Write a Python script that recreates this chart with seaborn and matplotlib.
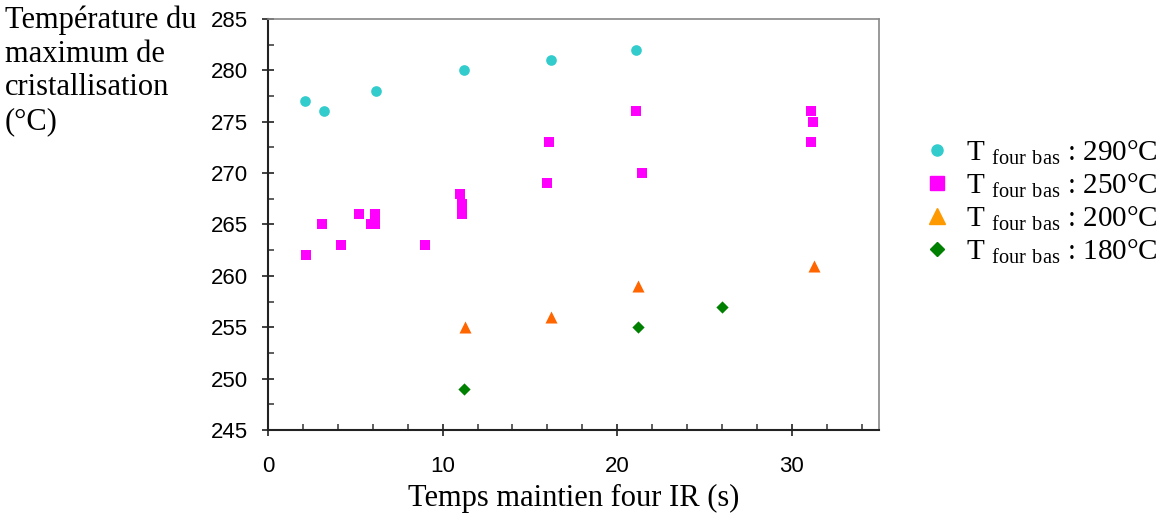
import matplotlib
matplotlib.use("Agg")
import matplotlib.pyplot as plt
from matplotlib.lines import Line2D
from matplotlib.ticker import MultipleLocator
import seaborn as sns
import pandas as pd

# Series
t_290 = [2.1, 3.2, 6.2, 11.2, 16.2, 21.1]
y_290 = [277, 276, 278, 280, 281, 282]

t_250 = [2.2, 3.1, 4.2, 5.2, 5.9, 6.1, 6.1, 9.0, 11.0, 11.1, 11.1, 16.0, 16.1, 21.1, 21.4, 31.1, 31.2, 31.1]
y_250 = [262, 265, 263, 266, 265, 265, 266, 263, 268, 267, 266, 269, 273, 276, 270, 276, 275, 273]

t_200 = [11.3, 16.2, 21.2, 31.3]
y_200 = [255, 256, 259, 261]

t_180 = [11.2, 21.2, 26.0]
y_180 = [249, 255, 257]

series = ["290", "250", "200", "180"]
colors = {"290": "#33CCCC", "250": "#FF00FF", "200": "#FF6600", "180": "#008000"}
legend_colors = {"290": "#33CCCC", "250": "#FF00FF", "200": "#FF9900", "180": "#008000"}
markers = {"290": "o", "250": "s", "200": "^", "180": "D"}
sizes = {"290": 59, "250": 57, "200": 75, "180": 39}
legend_sizes = {"290": 8, "250": 10, "200": 12, "180": 7}

df = pd.concat([
    pd.DataFrame({"temps": t_290, "temp": y_290, "four": "290"}),
    pd.DataFrame({"temps": t_250, "temp": y_250, "four": "250"}),
    pd.DataFrame({"temps": t_200, "temp": y_200, "four": "200"}),
    pd.DataFrame({"temps": t_180, "temp": y_180, "four": "180"}),
])

sns.set_style("ticks")
plt.rcParams["font.family"] = ["Liberation Sans", "DejaVu Sans"]
plt.rcParams["text.color"] = "black"
serif = ["Liberation Serif", "DejaVu Serif"]
plt.rcParams["mathtext.fontset"] = "custom"
plt.rcParams["mathtext.rm"] = "Liberation Serif"

fig = plt.figure(figsize=(11.73, 5.18), dpi=100)
ax = fig.add_axes([0.2285, 0.17, 0.5209, 0.7933])

for s in series:
    sub = df[df["four"] == s]
    sns.scatterplot(data=sub, x="temps", y="temp", color=colors[s], marker=markers[s],
                    s=sizes[s], linewidth=0, ax=ax, legend=False)

ax.set_xlim(0, 35)
ax.set_ylim(245, 285)
ax.xaxis.set_major_locator(MultipleLocator(10))
ax.xaxis.set_minor_locator(MultipleLocator(2))
ax.yaxis.set_major_locator(MultipleLocator(5))
ax.yaxis.set_minor_locator(MultipleLocator(2.5))
ax.tick_params(which="major", direction="inout", length=9, width=1.3, labelsize=16, color="#333333",
               labelcolor="black")
ax.tick_params(which="minor", direction="in", length=4, width=1.1, color="#333333")
ax.tick_params(axis="x", which="major", pad=14)
ax.tick_params(axis="y", which="major", pad=10)

for side in ["left", "bottom"]:
    ax.spines[side].set_color("#222222")
    ax.spines[side].set_linewidth(1.5)
for side in ["top", "right"]:
    ax.spines[side].set_color("#888888")
    ax.spines[side].set_linewidth(1.2)

ax.set_xlabel("Temps maintien four IR (s)", family=serif, fontsize=22, labelpad=5, color="black")
ax.set_ylabel("")

fig.text(0.004, 0.99, "Température du\nmaximum de\ncristallisation\n(°C)", family=serif,
         fontsize=22, va="top", ha="left", linespacing=1.22, color="black")

handles = [Line2D([], [], linestyle="none", marker=markers[s], color=legend_colors[s],
                  markersize=legend_sizes[s])
           for s in series]
labels = [r"T $_{\mathrm{four\ bas}}$ : " + s + "°C" for s in series]
leg = fig.legend(handles, labels, loc="center left", bbox_to_anchor=(0.786, 0.61),
                 frameon=False, prop={"family": serif, "size": 21}, borderaxespad=0, borderpad=0,
                 handletextpad=0.5, labelspacing=0.15, handlelength=1.0, labelcolor="black")

plt.savefig("out.png", dpi=100)
